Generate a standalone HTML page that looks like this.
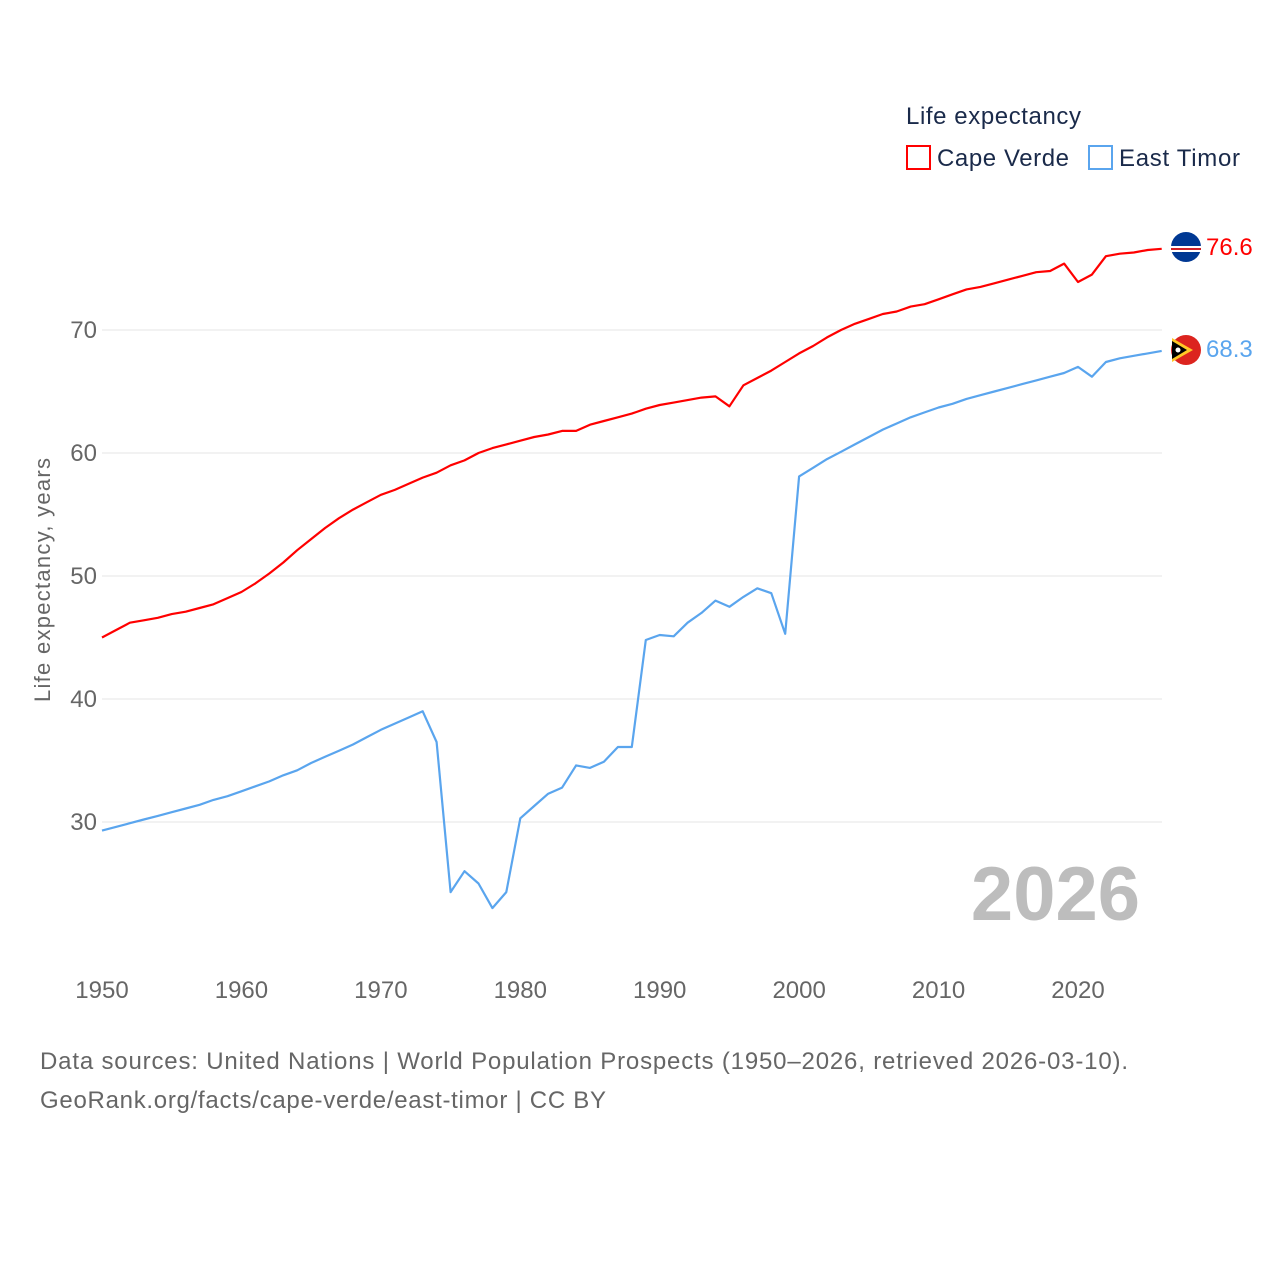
<!DOCTYPE html>
<html><head><meta charset="utf-8"><style>
body{margin:0;background:#fff;width:1280px;height:1280px;overflow:hidden;font-family:"Liberation Sans",sans-serif}
</style></head><body>
<svg id="chart" width="1280" height="1280" style="font-family:'Liberation Sans',sans-serif">
<g id="grid"></g>
<g id="yticks"></g>
<g id="xticks"></g>
<text x="50" y="580" transform="rotate(-90 50 580)" text-anchor="middle" font-size="22" fill="#666" textLength="244">Life expectancy, years</text>
<text x="1140" y="920" text-anchor="end" font-size="76" font-weight="bold" fill="#bdbdbd">2026</text>
<g id="series"></g>
<g>
<text x="906" y="124" font-size="24" fill="#1a2a4a" textLength="175">Life expectancy</text>
<g><rect x="907" y="146" width="23" height="23" fill="none" stroke="#f00" stroke-width="2"/><text x="937" y="166" font-size="24" fill="#1a2a4a" textLength="132">Cape Verde</text></g>
<g><rect x="1089" y="146" width="23" height="23" fill="none" stroke="#5aa5ee" stroke-width="2"/><text x="1119" y="166" font-size="24" fill="#1a2a4a" textLength="121">East Timor</text></g>
</g>
<g><circle cx="1186" cy="247" r="15" fill="#003893"/><rect x="1171" y="246" width="30" height="6" fill="#fff"/><rect x="1171" y="248" width="30" height="2" fill="#cf2027"/></g>
<g><circle cx="1186" cy="350" r="15" fill="#dc241f"/><path d="M1172 338 L1193 350 L1172 362 Z" fill="#ffc726"/><path d="M1172 341 L1187 350 L1172 359 Z" fill="#000"/><circle cx="1178" cy="350" r="2.5" fill="#fff"/></g>
<text x="1206" y="255" font-size="24" fill="#f00">76.6</text>
<text x="1206" y="357" font-size="24" fill="#5aa5ee">68.3</text>
<text x="40" y="1069" font-size="24" fill="#666" textLength="1088">Data sources: United Nations | World Population Prospects (1950–2026, retrieved 2026-03-10).</text>
<text x="40" y="1108" font-size="24" fill="#666" textLength="566">GeoRank.org/facts/cape-verde/east-timor | CC BY</text>
</svg>
<script>
const years=[];for(let y=1950;y<=2026;y++)years.push(y);
const capeVerde=[45.0,45.6,46.2,46.4,46.6,46.9,47.1,47.4,47.7,48.2,48.7,49.4,50.2,51.1,52.1,53.0,53.9,54.7,55.4,56.0,56.6,57.0,57.5,58.0,58.4,59.0,59.4,60.0,60.4,60.7,61.0,61.3,61.5,61.8,61.8,62.3,62.6,62.9,63.2,63.6,63.9,64.1,64.3,64.5,64.6,63.8,65.5,66.1,66.7,67.4,68.1,68.7,69.4,70.0,70.5,70.9,71.3,71.5,71.9,72.1,72.5,72.9,73.3,73.5,73.8,74.1,74.4,74.7,74.8,75.4,73.9,74.5,76.0,76.2,76.3,76.5,76.6];
const eastTimor=[29.3,29.6,29.9,30.2,30.5,30.8,31.1,31.4,31.8,32.1,32.5,32.9,33.3,33.8,34.2,34.8,35.3,35.8,36.3,36.9,37.5,38.0,38.5,39.0,36.5,24.3,26.0,25.0,23.0,24.3,30.3,31.3,32.3,32.8,34.6,34.4,34.9,36.1,36.1,44.8,45.2,45.1,46.2,47.0,48.0,47.5,48.3,49.0,48.6,45.3,58.1,58.8,59.5,60.1,60.7,61.3,61.9,62.4,62.9,63.3,63.7,64.0,64.4,64.7,65.0,65.3,65.6,65.9,66.2,66.5,67.0,66.2,67.4,67.7,67.9,68.1,68.3];
const yTicks=[30,40,50,60,70];
const xTicks=[1950,1960,1970,1980,1990,2000,2010,2020];
const NS="http://www.w3.org/2000/svg";
const xs=y=>102+(y-1950)*(1078-102)/70;
const ys=v=>822-(v-30)*12.3;
function mk(t,a,p){const e=document.createElementNS(NS,t);for(const k in a)e.setAttribute(k,a[k]);p.appendChild(e);return e;}
const grid=document.getElementById('grid'),yt=document.getElementById('yticks'),xt=document.getElementById('xticks'),ser=document.getElementById('series');
yTicks.forEach(v=>{
const l=mk('line',{x1:102,x2:1162,y1:ys(v),y2:ys(v),stroke:'#e6e6e6','stroke-width':1},grid);


const t=mk('text',{x:97,y:ys(v)+8,'text-anchor':'end','font-size':24,fill:'#666'},yt);t.textContent=v;


});
xTicks.forEach(v=>{
const t=mk('text',{x:xs(v),y:998,'text-anchor':'middle','font-size':24,fill:'#666'},xt);t.textContent=v;


});
function line(data,color,name){
const d=data.map((v,i)=>(i?'L':'M')+xs(years[i]).toFixed(1)+' '+ys(v).toFixed(1)).join(' ');
const p=mk('path',{d:d,fill:'none',stroke:color,'stroke-width':2.2,'stroke-linejoin':'round'},ser);


}
line(capeVerde,'#f00','line-cape-verde');
line(eastTimor,'#5aa5ee','line-east-timor');
</script>
</body></html>
